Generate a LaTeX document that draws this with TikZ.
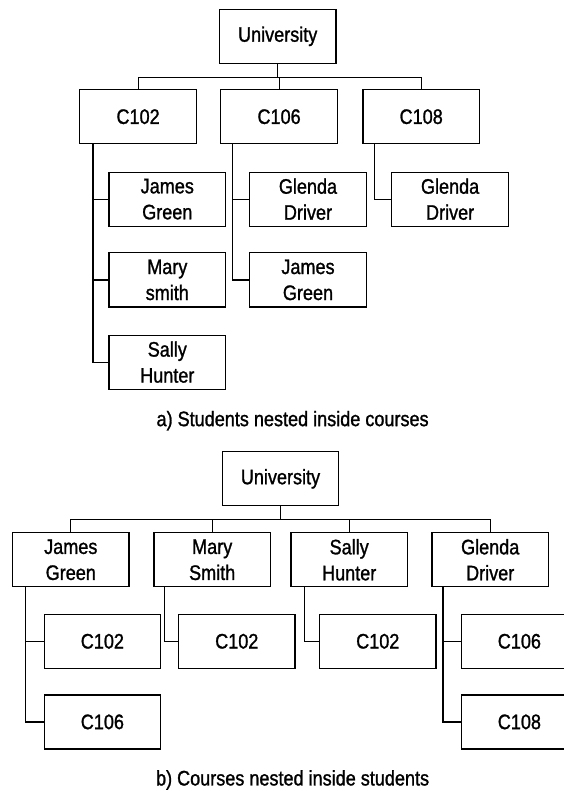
\documentclass[tikz,border=0pt]{standalone}
\usepackage{fontspec}
\setmainfont{Liberation Sans}[FakeStretch=0.86,FakeBold=1.2]
\usetikzlibrary{positioning}
\tikzset{
  entity/.style={rectangle,draw=black,line width=1.2pt,align=center,minimum width=116.5pt,minimum height=54pt,inner sep=0pt,font=\fontsize{21}{26}\selectfont},
  caption/.style={font=\fontsize{21}{26}\selectfont},
  link/.style={line width=1.2pt}
}

\begin{document}
\begin{tikzpicture}[x=1pt,y=-1pt,node distance=23.3pt]
  \useasboundingbox (0,0) rectangle (563,791);
  % a) students nested inside courses
  \node[entity] (uniA) at (277.7,36.3) {University};
  \node[entity] (c102A) at (138.1,116.7) {C102};
  \node[entity,right=of c102A] (c106A) {C106};
  \node[entity,right=24.4pt of c106A] (c108A) {C108};
  \node[entity,below=27.3pt of c102A,xshift=29.2pt] (jamesA) {James\\Green};
  \node[entity,below=25.5pt of jamesA] (maryA) {Mary\\smith};
  \node[entity,below=27pt of maryA] (sallyA) {Sally\\Hunter};
  \node[entity,below=27.3pt of c106A,xshift=28.9pt] (glendaA) {Glenda\\Driver};
  \node[entity,below=25.5pt of glendaA] (jamesAA) {James\\Green};
  \node[entity,below=27.3pt of c108A,xshift=28.9pt] (glendaAA) {Glenda\\Driver};
  \node[caption] (capA) at (292.6,420.7) {a) Students nested inside courses};

  \draw[link] (uniA.south) -- ++(0,13.4) coordinate (busA);
  \draw[link] (c102A.north) |- (busA) -| (c108A.north);
  \draw[link] (c106A.north) -- (c106A.north |- busA);
  \coordinate (trA) at ([xshift=13.7pt]c102A.south west);
  \coordinate (trB) at ([xshift=12.6pt]c106A.south west);
  \coordinate (trC) at ([xshift=11.9pt]c108A.south west);
  \draw[link] (trA) |- (sallyA.west);
  \draw[link] (jamesA.west) -- (jamesA.west -| trA);
  \draw[link] (maryA.west) -- (maryA.west -| trA);
  \draw[link] (trB) |- (jamesAA.west);
  \draw[link] (glendaA.west) -- (glendaA.west -| trB);
  \draw[link] (trC) |- (glendaAA.west);

  % b) courses nested inside students
  \node[entity] (uniB) at (280.5,478.8) {University};
  \node[entity] (jamesB) at (70.8,559.8) {James\\Green};
  \node[entity,right=23.7pt of jamesB] (maryB) {Mary\\Smith};
  \node[entity,right=19.3pt of maryB] (sallyB) {Sally\\Hunter};
  \node[entity,right=of sallyB] (glendaB) {Glenda\\Driver};
  \node[entity,below=26.3pt of jamesB,xshift=31.6pt] (c102B) {C102};
  \node[entity,below=25.4pt of c102B] (c106B) {C106};
  \node[entity,below=26.3pt of maryB,xshift=24.6pt] (c102BB) {C102};
  \node[entity,below=26.3pt of sallyB,xshift=28.6pt] (c102BC) {C102};
  \node[entity,below=26.3pt of glendaB,xshift=29.2pt] (c106BB) {C106};
  \node[entity,below=25.4pt of c106BB] (c108B) {C108};
  \node[caption] (capB) at (292.6,780) {b) Courses nested inside students};

  \draw[link] (uniB.south) -- ++(0,13.3) coordinate (busB);
  \draw[link] (jamesB.north) |- (busB) -| (glendaB.north);
  \draw[link] (maryB.north) -- (maryB.north |- busB);
  \draw[link] (sallyB.north) -- (sallyB.north |- busB);
  \coordinate (trD) at ([xshift=13.3pt]jamesB.south west);
  \coordinate (trE) at ([xshift=10.8pt]maryB.south west);
  \coordinate (trF) at ([xshift=14.4pt]sallyB.south west);
  \coordinate (trG) at ([xshift=11.7pt]glendaB.south west);
  \draw[link] (trD) |- (c106B.west);
  \draw[link] (c102B.west) -- (c102B.west -| trD);
  \draw[link] (trE) |- (c102BB.west);
  \draw[link] (trF) |- (c102BC.west);
  \draw[link] (trG) |- (c108B.west);
  \draw[link] (c106BB.west) -- (c106BB.west -| trG);
\end{tikzpicture}
\end{document}
